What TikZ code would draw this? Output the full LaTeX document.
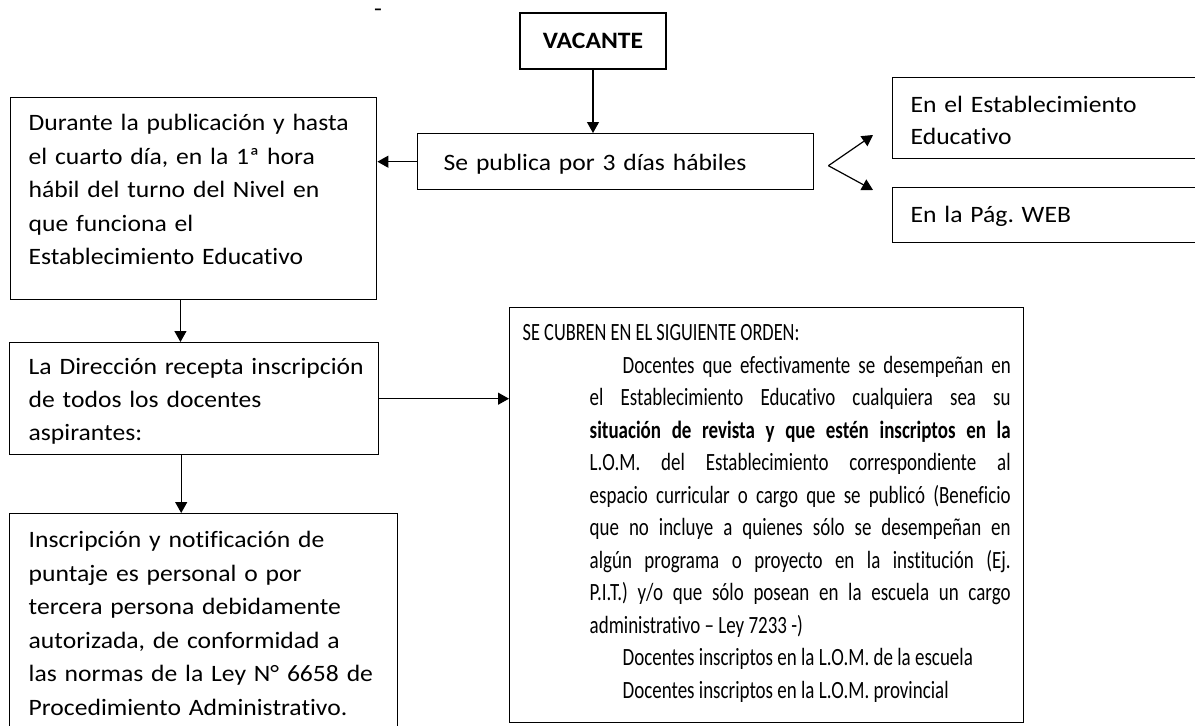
\documentclass[tikz,border=0pt]{standalone}
\usepackage{fontspec}
\setmainfont[FakeStretch=1.09,Ligatures=NoCommon]{Carlito}
\newfontfamily\narrowfont[FakeStretch=0.765,Ligatures=NoCommon]{Carlito}
\newfontfamily\headfont[FakeStretch=0.74,Ligatures=NoCommon]{Carlito}
\usetikzlibrary{arrows,arrows.meta,positioning}
\frenchspacing
\newcommand\bodyfont{\fontsize{23.5pt}{33.5pt}\selectfont}
\newcommand\ordenfont{\narrowfont\fontsize{24.8pt}{32.5pt}\selectfont}
\tikzset{
  tbox/.style={draw, line width=1.4pt, anchor=north west, inner ysep=0pt, font=\bodyfont},
  lbox/.style={tbox, align=left},
  cbox/.style={draw, line width=1.4pt, align=center, font=\bodyfont\bfseries},
  arr/.style={-{Triangle[length=11pt,width=12pt]}, line width=1.2pt}
}
\begin{document}
\begin{tikzpicture}[x=1pt,y=-1pt]
  \useasboundingbox (0,0) rectangle (1195,726);
  \clip (0,0) rectangle (1195,726);
  \fill[white] (0,0) rectangle (1195,726);

  \node[font=\bodyfont, inner sep=0pt] (dash) at (378,12.5) {-};
  \node[cbox, minimum width=146pt, minimum height=56pt] (vacante) at (593,41) {VACANTE};
  \node[lbox, text width=344pt, inner xsep=26pt, text height=37pt, text depth=19pt] (publica) at (417,133)
    {Se publica por 3 días hábiles};
  \node[lbox, text width=329.5pt, inner xsep=18.5pt, text height=33pt, text depth=169pt] (durante) at (9.5,97)
    {Durante la publicación y hasta\\ el cuarto día, en la 1ª hora\\ hábil del turno del Nivel en\\
     que funciona el\\ Establecimiento Educativo};
  \node[lbox, text width=300pt, inner xsep=18pt, text height=35pt, text depth=46pt] (estab) at (892,77)
    {En el Establecimiento\\[-1.5pt] Educativo};
  \node[lbox, text width=300pt, inner xsep=18pt, text height=35pt, text depth=20pt] (web) at (892,187)
    {En la Pág. WEB};
  \node[lbox, text width=331pt, inner xsep=19pt, text height=32pt, text depth=80pt] (direccion) at (9,342)
    {\mbox{La Dirección recepta inscripción}\\[-0.5pt] de todos los docentes\\[-0.5pt] aspirantes:};
  \node[lbox, text width=350pt, inner xsep=19pt, text height=34pt, text depth=200pt] (inscripcion) at (9,513)
    {Inscripción y notificación de\\ puntaje es personal o por\\ tercera persona debidamente\\
     autorizada, de conformidad a\\ \mbox{las normas de la Ley N° 6658 de}\\ Procedimiento Administrativo.};
  \node[tbox, align=justify, font=\ordenfont, text width=488pt, inner xsep=13pt, text height=33pt, text depth=382pt] (orden) at (509,307)
    {{\headfont SE CUBREN EN EL SIGUIENTE ORDEN:}\par
     \leftskip=67pt \rightskip=0pt \parfillskip=0pt plus 1fil \parindent=33pt \hyphenpenalty=10000
     Docentes que efectivamente se desempeñan en\linebreak
     el Establecimiento Educativo cualquiera sea su\linebreak
     \textbf{situación de revista y que estén inscriptos en la}\linebreak
     L.O.M. del Establecimiento correspondiente al\linebreak
     espacio curricular o cargo que se publicó (Beneficio\linebreak
     que no incluye a quienes sólo se desempeñan en\linebreak
     algún programa o proyecto en la institución (Ej.\linebreak
     P.I.T.) y/o que sólo posean en la escuela un cargo\linebreak
     administrativo – Ley 7233 -)\par
     Docentes inscriptos en la L.O.M. de la escuela\par
     Docentes inscriptos en la L.O.M. provincial\par};

  % connectors
  \coordinate (fork) at ([xshift=14pt,yshift=-4pt]publica.east);
  \coordinate (toestab) at ([xshift=-19pt]estab.west |- 0,135);
  \coordinate (toweb) at ([xshift=-19pt]web.west |- 0,190);
  \draw[arr] (vacante.south) -- (vacante.south |- publica.north);
  \draw[arr] (publica.west) -- (publica.west -| durante.east);
  \draw[arr] (fork) -- (toestab);
  \draw[arr] (fork) -- (toweb);
  \draw[arr] ([xshift=-13pt]durante.south) -- ([xshift=-13pt]durante.south |- direccion.north);
  \draw[arr] ([xshift=-13pt]direccion.south) -- ([xshift=-13pt]direccion.south |- inscripcion.north);
  \draw[arr] (direccion.east) -- (direccion.east -| orden.west);
\end{tikzpicture}
\end{document}
